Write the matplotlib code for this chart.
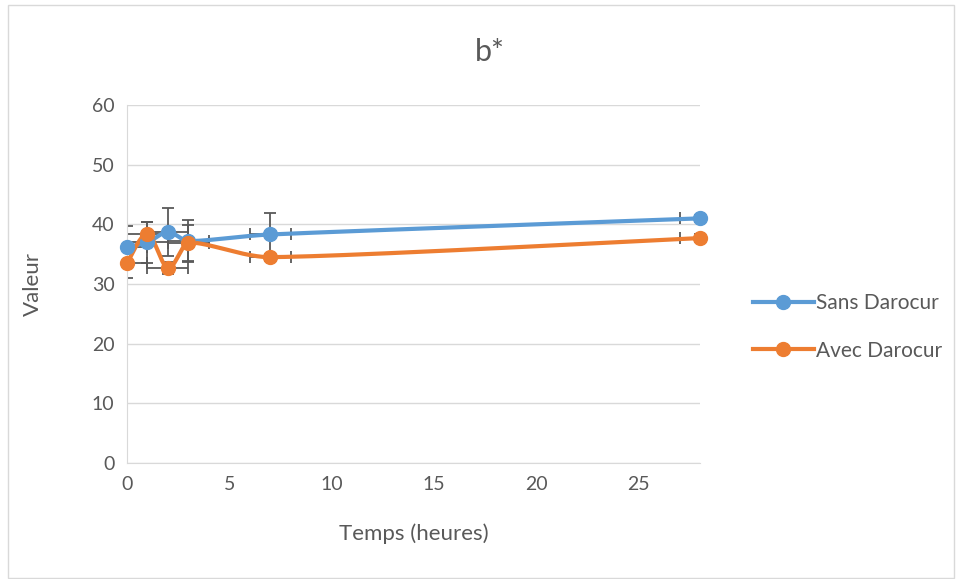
import matplotlib
matplotlib.use("Agg")
import matplotlib.pyplot as plt
import numpy as np

plt.rcParams['font.family'] = ['Lato', 'DejaVu Sans']

# temps (heures)
temps = [0, 1, 2, 3, 7, 28]
sans = [36.2, 37.0, 38.7, 37.2, 38.3, 41.0]
avec = [33.5, 38.4, 32.7, 36.9, 34.5, 37.7]
sans_err = [3.5, 3.4, 4.0, 3.5, 3.6, 0.6]
avec_err = [2.5, 2.0, 1.0, 3.0, 0.6, 0.6]
x_err = [1, 1, 1, 1, 1, 1]

BLUE = '#5B9BD5'
ORANGE = '#ED7D31'
GREY = '#595959'


def smooth(xs, ys, n=40):
    # bezier curve through the points, like Excel "smoothed line"
    xs = np.asarray(xs, float)
    ys = np.asarray(ys, float)
    px = np.concatenate([[xs[0]], xs, [xs[-1]]])
    py = np.concatenate([[ys[0]], ys, [ys[-1]]])
    ox, oy = [], []
    t = np.linspace(0, 1, n)
    for i in range(1, len(px) - 2):
        p0 = np.array([px[i], py[i]])
        p1 = np.array([px[i + 1], py[i + 1]])
        seg = (p1[0] - p0[0]) / 3
        m0 = (np.array([px[i + 1], py[i + 1]]) - np.array([px[i - 1], py[i - 1]])) / 6
        m1 = (np.array([px[i + 2], py[i + 2]]) - np.array([px[i], py[i]])) / 6
        if m0[0] > seg:
            m0 = m0 * seg / m0[0]
        if m1[0] > seg:
            m1 = m1 * seg / m1[0]
        c1 = p0 + m0
        c2 = p1 - m1
        b = ((1 - t) ** 3)[:, None] * p0 + (3 * (1 - t) ** 2 * t)[:, None] * c1 \
            + (3 * (1 - t) * t ** 2)[:, None] * c2 + (t ** 3)[:, None] * p1
        ox.extend(b[:, 0])
        oy.extend(b[:, 1])
    return ox, oy


fig = plt.figure(figsize=(9.56, 5.79), dpi=100)
ax = fig.add_axes([127 / 956, 1 - 463 / 579, (700 - 127) / 956, (463 - 105) / 579])

for ys, err, col, lab in [(sans, sans_err, BLUE, 'Sans Darocur'),
                          (avec, avec_err, ORANGE, 'Avec Darocur')]:
    ax.errorbar(temps, ys, yerr=err, xerr=x_err, fmt='none', ecolor=GREY,
                elinewidth=1.3, capsize=4, capthick=1.3, zorder=2)
    sx, sy = smooth(temps, ys)
    ax.plot(sx, sy, color=col, lw=3, zorder=3, solid_capstyle='round')
    ax.plot(temps, ys, 'o', color=col, ms=10, zorder=4, clip_on=False)
    ax.plot([], [], '-o', color=col, lw=3, ms=10, label=lab)

ax.set_xlim(0, 28)
ax.set_ylim(0, 60)
ax.set_xticks([0, 5, 10, 15, 20, 25])
ax.set_yticks(range(0, 61, 10))
ax.grid(axis='y', color='#D9D9D9', lw=1)
ax.set_axisbelow(True)
for s in ['top', 'right']:
    ax.spines[s].set_visible(False)
for s in ['left', 'bottom']:
    ax.spines[s].set_color('#D9D9D9')
ax.tick_params(length=0, labelsize=14, labelcolor=GREY, pad=9)

fig.text(490 / 956, 1 - 52 / 579, 'b*', fontsize=22, color=GREY, ha='center', va='center')
ax.set_xlabel('Temps (heures)', fontsize=16, color=GREY, labelpad=22)
ax.set_ylabel('Valeur', fontsize=16, color=GREY, labelpad=35)

ax.legend(loc='center left', bbox_to_anchor=(1.06, 0.38), frameon=False,
          fontsize=15, labelcolor=GREY, handlelength=2.9, handletextpad=0.1,
          labelspacing=1.3)

fig.patches.append(plt.Rectangle((0.008, 0.002), 0.99, 0.99, transform=fig.transFigure,
                                 fill=False, edgecolor='#D9D9D9', lw=1))

fig.savefig('out.png', dpi=100)
